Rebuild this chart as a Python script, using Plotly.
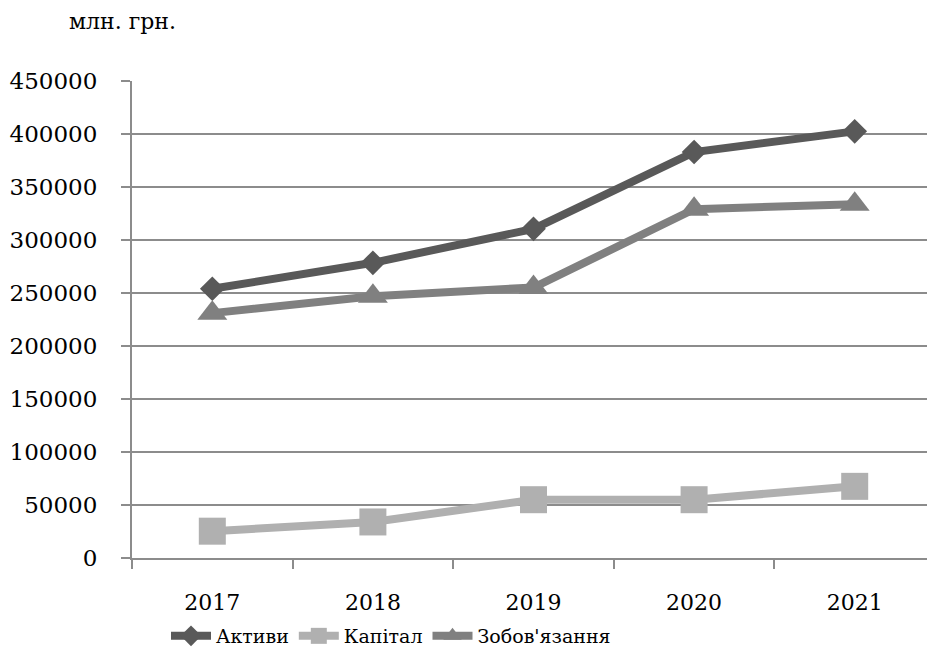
import plotly.graph_objects as go

years = ["2017", "2018", "2019", "2020", "2021"]
aktyvy = [254000, 278500, 310500, 383000, 402500]
kapital = [25300, 34000, 55000, 55000, 67600]
zobov = [231000, 247000, 255200, 329000, 333800]
y_ticks = [0, 50000, 100000, 150000, 200000, 250000, 300000, 350000, 400000, 450000]

FONT = "DejaVu Serif"

# page body has an 8px margin: figure is 927x645, offsets shifted by 8
W, H = 927, 645
L, T, B = 124, 73, 95
PW, PH = W - L, H - T - B

fig = go.Figure()
fig.add_trace(go.Scatter(x=years, y=aktyvy, name="Активи", mode="lines+markers",
                         line=dict(color="#595959", width=8),
                         marker=dict(symbol="diamond", size=19, color="#595959")))
fig.add_trace(go.Scatter(x=years, y=kapital, name="Капітал", mode="lines+markers",
                         line=dict(color="#b0b0b0", width=8),
                         marker=dict(symbol="square", size=27, color="#b0b0b0")))
fig.add_trace(go.Scatter(x=years, y=zobov, name="Зобов'язання", mode="lines+markers",
                         line=dict(color="#808080", width=8),
                         marker=dict(symbol="triangle-up", size=26, color="#808080")))

fig.update_layout(
    width=W, height=H,
    margin=dict(l=L, r=0, t=T, b=B, autoexpand=False),
    paper_bgcolor="white", plot_bgcolor="white",
    font=dict(family=FONT, color="black"),
    showlegend=True,
    legend=dict(orientation="h", x=(158 - L) / PW, xanchor="left",
                y=-(628 - 550) / PH, yanchor="middle", font=dict(size=19, family=FONT),
                itemwidth=40, tracegroupgap=0, bgcolor="rgba(0,0,0,0)"),
    annotations=[dict(text="млн. грн.", xref="paper", yref="paper",
                      x=(59 - L) / PW, y=(550 - 14) / PH, xanchor="left",
                      yanchor="middle", showarrow=False,
                      font=dict(size=22, family=FONT))],
)
fig.update_xaxes(type="category", range=[-0.5, 4.5], showgrid=False,
                 showline=True, linecolor="#8c8c8c", linewidth=2,
                 ticks="outside", tickson="boundaries", ticklen=9, tickwidth=2,
                 tickcolor="#8c8c8c", tickfont=dict(size=22, family=FONT),
                 ticklabelstandoff=24, fixedrange=True, automargin=False)
fig.update_yaxes(range=[0, 450000], tickvals=y_ticks,
                 ticktext=[str(v) for v in y_ticks],
                 showgrid=True, gridcolor="#8c8c8c", gridwidth=2,
                 showline=True, linecolor="#8c8c8c", linewidth=2,
                 ticks="outside", ticklen=9, tickwidth=2, tickcolor="#8c8c8c",
                 tickfont=dict(size=23, family=FONT), ticklabelstandoff=19,
                 zeroline=False, fixedrange=True, automargin=False)

fig.write_html("out.html")
